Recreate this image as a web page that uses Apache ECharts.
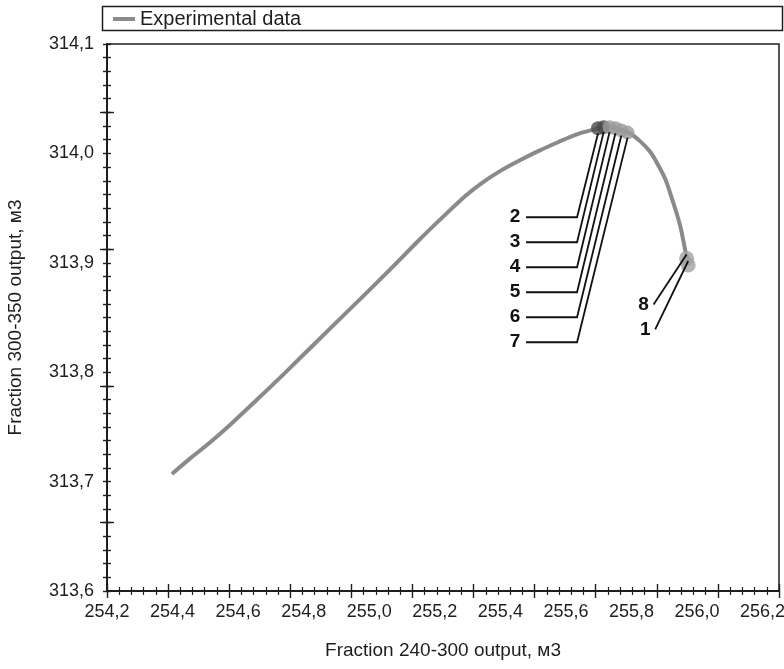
<!DOCTYPE html>
<html>
<head>
<meta charset="utf-8">
<script src="https://cdn.jsdelivr.net/npm/echarts@6/dist/echarts.min.js"></script>
<style>
  html, body { margin: 0; padding: 0; background: #ffffff; }
  #chart { width: 784px; height: 669px; }
</style>
</head>
<body>
<div id="chart"></div>
<script>
// Experimental trajectory: fraction 240-300 output vs fraction 300-350 output (m3)
const curveX = [254.398, 254.453, 254.515, 254.576, 254.658, 254.728, 254.789, 254.881,
                254.973, 255.064, 255.156, 255.232, 255.293, 255.339, 255.400, 255.461,
                255.522, 255.574, 255.629, 255.675, 255.715, 255.751, 255.791, 255.827,
                255.858, 255.882, 255.904, 255.922, 255.937, 255.950, 255.959, 255.965,
                255.974];
const curveY = [313.707, 313.721, 313.736, 313.752, 313.775, 313.795, 313.813, 313.840,
                313.867, 313.894, 313.922, 313.944, 313.961, 313.972, 313.984, 313.994,
                314.003, 314.010, 314.017, 314.021, 314.024, 314.023, 314.019, 314.011,
                314.001, 313.989, 313.976, 313.960, 313.946, 313.932, 313.919, 313.910,
                313.901];

// Numbered operating points
const pointNames = ['1', '2', '3', '4', '5', '6', '7', '8'];
const pointX = [255.973, 255.698, 255.715, 255.733, 255.751, 255.769, 255.788, 255.968];
const pointY = [313.898, 314.023, 314.024, 314.024, 314.023, 314.021, 314.019, 313.904];

// Callout groups: stacked labels left of the peak, and the pair at the end point
const leftGroup = ['2', '3', '4', '5', '6', '7'];
const rightGroup = ['8', '1'];

// Axis label values
const xTicks = [254.2, 254.4, 254.6, 254.8, 255.0, 255.2, 255.4, 255.6, 255.8, 256.0, 256.2];
const yTicks = [313.6, 313.7, 313.8, 313.9, 314.0, 314.1];

const FONT = "'Liberation Sans Narrow', 'Arial Narrow', 'Liberation Sans', Arial, sans-serif";
const INK = '#1e1e1e';
const commaFmt = v => Number(v).toFixed(1).replace('.', ',');

const chart = echarts.init(document.getElementById('chart'), null, { renderer: 'canvas' });

// Tick-only axes (no line, no labels) used to draw ticks that cross the axis line
function tickAxis(base, inside, len, minor) {
  const ax = {
    type: 'value',
    axisLine: { show: false, onZero: false },
    axisLabel: { show: false },
    splitLine: { show: false },
    minorSplitLine: { show: false },
    axisTick: { show: true, inside: inside, length: len, lineStyle: { color: INK, width: 1.4 } },
    minorTick: { show: false },
    silent: true
  };
  if (minor) {
    ax.minorTick = { show: true, splitNumber: minor, length: 4, lineStyle: { color: INK, width: 1.2 } };
  }
  Object.keys(base).forEach(k => {
    if (k === 'axisTick') Object.assign(ax.axisTick, base[k]); else ax[k] = base[k];
  });
  return ax;
}

const pointColor = name => (name === '2' || name === '3') ? '#4a4a4a'
                        : (name === '1' || name === '8') ? '#a3a3a3' : '#9b9b9b';

const yLong = [5, 15, 25, 35];

const option = {
  animation: false,
  backgroundColor: '#ffffff',
  textStyle: { fontFamily: FONT },
  grid: {
    left: 107, right: 5, top: 44, bottom: 78,
    outerBoundsMode: 'none',
    containLabel: false,
    show: true, borderColor: INK, borderWidth: 1.5, backgroundColor: 'transparent'
  },
  legend: {
    data: ['Experimental data'],
    left: 108, top: 4,
    icon: 'rect', itemWidth: 22, itemHeight: 4, itemGap: 8,
    textStyle: { fontFamily: FONT, fontSize: 20, color: INK },
    selectedMode: false
  },
  graphic: [{
    type: 'rect', left: 100, top: 4, silent: true,
    shape: { width: 680, height: 24 },
    style: { fill: 'none', stroke: INK, lineWidth: 1.5 }
  }],
  xAxis: [
    {
      type: 'value', min: 254.2, max: 256.25, position: 'bottom',
      name: 'Fraction 240-300 output, м3', nameLocation: 'middle', nameGap: 50,
      nameTextStyle: { fontFamily: FONT, fontSize: 19, color: INK },
      axisLine: { show: true, onZero: false, lineStyle: { color: INK, width: 2 } },
      axisTick: { show: false },
      axisLabel: {
        customValues: xTicks, formatter: commaFmt, margin: 12,
        fontFamily: FONT, fontSize: 18, color: INK
      },
      splitLine: { show: false }
    },
    tickAxis({ min: 0, max: 55, interval: 5, position: 'bottom' }, false, 7, 5),
    tickAxis({ min: 0, max: 55, interval: 5, position: 'bottom' }, true, 7, 5)
  ],
  yAxis: [
    {
      type: 'value', min: 313.6, max: 314.1, position: 'left',
      name: 'Fraction 300-350 output, м3', nameLocation: 'middle', nameGap: 82,
      nameTextStyle: { fontFamily: FONT, fontSize: 19, color: INK },
      axisLine: { show: true, onZero: false, lineStyle: { color: INK, width: 2 } },
      axisTick: { show: false },
      axisLabel: {
        customValues: yTicks, formatter: commaFmt, margin: 13,
        fontFamily: FONT, fontSize: 18, color: INK
      },
      splitLine: { show: false }
    },
    tickAxis({ min: 0, max: 40, position: 'left', axisTick: { customValues: yLong } }, false, 7, 0),
    tickAxis({ min: 0, max: 40, position: 'left', axisTick: { customValues: yLong } }, true, 7, 0),
    tickAxis({ min: 0, max: 40, interval: 1, position: 'left' }, false, 4, 0),
    tickAxis({ min: 0, max: 40, interval: 1, position: 'left' }, true, 4, 0)
  ],
  series: [
    {
      name: 'Experimental data',
      type: 'line',
      xAxisIndex: 0, yAxisIndex: 0,
      data: curveX.map((x, i) => [x, curveY[i]]),
      showSymbol: false,
      smooth: 0.3,
      lineStyle: { color: '#8a8a8a', width: 4 },
      itemStyle: { color: '#8a8a8a' },
      z: 2
    },
    {
      name: 'points',
      type: 'scatter',
      xAxisIndex: 0, yAxisIndex: 0,
      data: pointNames.map((n, i) => ({
        value: [pointX[i], pointY[i]],
        itemStyle: { color: pointColor(n) }
      })),
      symbol: 'circle',
      symbolSize: function (v, p) {
        const n = pointNames[p.dataIndex];
        return (n === '1' || n === '8') ? 15 : 14;
      },
      z: 3,
      silent: true
    },
    {
      name: 'callouts',
      type: 'custom',
      xAxisIndex: 0, yAxisIndex: 0,
      data: pointNames.map((n, i) => [pointX[i], pointY[i]]),
      encode: { x: 0, y: 1 },
      clip: false,
      z: 5,
      silent: true,
      renderItem: function (params, api) {
        const name = pointNames[params.dataIndex];
        const p = api.coord([api.value(0), api.value(1)]);
        const lineStyle = { stroke: '#111', lineWidth: 1.8, fill: null };
        const textStyle = (x, y) => ({
          x: x, y: y, text: name, fill: '#111',
          font: 'bold 19px ' + FONT, align: 'center', verticalAlign: 'middle'
        });
        const li = leftGroup.indexOf(name);
        if (li >= 0) {
          const r = pointNames.indexOf(leftGroup[0]);
          const ref = api.coord([pointX[r], pointY[r]]);
          const ax = ref[0] - 21;
          const ay = ref[1] + 89 + 25 * li;
          return {
            type: 'group',
            children: [
              { type: 'polyline', shape: { points: [[ax - 51, ay], [ax, ay], [p[0], p[1] + 5]] }, style: lineStyle },
              { type: 'text', style: textStyle(ax - 62, ay) }
            ]
          };
        }
        const ri = rightGroup.indexOf(name);
        const r0 = pointNames.indexOf(rightGroup[0]);
        const ref = api.coord([pointX[r0], pointY[r0]]);
        const bx = p[0] - 33;
        const by = ref[1] + 46 + 25 * ri;
        return {
          type: 'group',
          children: [
            { type: 'line', shape: { x1: bx, y1: by, x2: p[0], y2: p[1] - 4 }, style: lineStyle },
            { type: 'text', style: textStyle(bx - 10, by) }
          ]
        };
      }
    }
  ]
};

chart.setOption(option);
</script>
</body>
</html>
